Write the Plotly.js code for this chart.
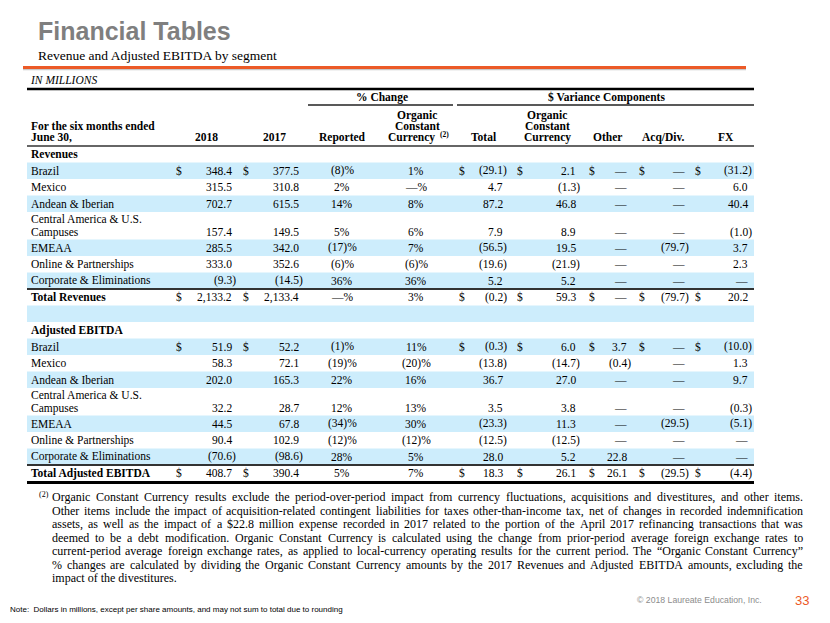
<!DOCTYPE html>
<html><head><meta charset="utf-8">
<script src="https://cdn.plot.ly/plotly-3.0.1.min.js"></script>
<style>html,body{margin:0;padding:0;background:#fff;overflow:hidden}</style>
</head><body><div id="chart" style="width:830px;height:623px"></div>
<script>
// ---------------- DATA ----------------
const segments = ["Brazil","Mexico","Andean &amp; Iberian","Central America &amp; U.S.|Campuses","EMEAA","Online &amp; Partnerships","Corporate &amp; Eliminations"];
const yearLabels = ["2018","2017"];
const pctHeaders = ["Reported","Organic|Constant|Currency"];
const varHeaders = ["Total","Organic|Constant|Currency","Other","Acq/Div.","FX"];

// Revenues
const rev2018        = [348.4, 315.5, 702.7, 157.4, 285.5, 333.0, -9.3];
const rev2017        = [377.5, 310.8, 615.5, 149.5, 342.0, 352.6, -14.5];
const revReportedPct = [-8, 2, 14, 5, -17, -6, 36];
const revOrganicPct  = [1, 0, 8, 6, 7, -6, 36];
const revTotalVar    = [-29.1, 4.7, 87.2, 7.9, -56.5, -19.6, 5.2];
const revOrganicVar  = [2.1, -1.3, 46.8, 8.9, 19.5, -21.9, 5.2];
const revOtherVar    = [0, 0, 0, 0, 0, 0, 0];
const revAcqDivVar   = [0, 0, 0, 0, -79.7, 0, 0];
const revFxVar       = [-31.2, 6.0, 40.4, -1.0, 3.7, 2.3, 0];
const revTotals      = [2133.2, 2133.4, 0, 3, -0.2, 59.3, 0, -79.7, 20.2];

// Adjusted EBITDA
const eb2018        = [51.9, 58.3, 202.0, 32.2, 44.5, 90.4, -70.6];
const eb2017        = [52.2, 72.1, 165.3, 28.7, 67.8, 102.9, -98.6];
const ebReportedPct = [-1, -19, 22, 12, -34, -12, 28];
const ebOrganicPct  = [11, -20, 16, 13, 30, -12, 5];
const ebTotalVar    = [-0.3, -13.8, 36.7, 3.5, -23.3, -12.5, 28.0];
const ebOrganicVar  = [6.0, -14.7, 27.0, 3.8, 11.3, -12.5, 5.2];
const ebOtherVar    = [3.7, -0.4, 0, 0, 0, 0, 22.8];
const ebAcqDivVar   = [0, 0, 0, 0, -29.5, 0, 0];
const ebFxVar       = [-10.0, 1.3, 9.7, -0.3, -5.1, 0, 0];
const ebTotals      = [408.7, 390.4, 5, 7, 18.3, 26.1, 26.1, -29.5, -4.4];

const footLines = [
 "Organic Constant Currency results exclude the period-over-period impact from currency fluctuations, acquisitions and divestitures, and other items.",
 "Other items include the impact of acquisition-related contingent liabilities for taxes other-than-income tax, net of changes in recorded indemnification",
 "assets, as well as the impact of a $22.8 million expense recorded in 2017 related to the portion of the April 2017 refinancing transactions that was",
 "deemed to be a debt modification. Organic Constant Currency is calculated using the change from prior-period average foreign exchange rates to",
 "current-period average foreign exchange rates, as applied to local-currency operating results for the current period. The \u201cOrganic Constant Currency\u201d",
 "% changes are calculated by dividing the Organic Constant Currency amounts by the 2017 Revenues and Adjusted EBITDA amounts, excluding the",
 "impact of the divestitures."
];

// ---------------- RENDER ----------------
const SERIF = "Liberation Serif, Times New Roman, serif";
const SANS = "Liberation Sans, Arial, sans-serif";
const FS = 11.5;
const BLUE = "#cdedfc";
const ann = [], shapes = [];
function T(x, y, text, o) {
  o = o || {};
  ann.push({xref:'x', yref:'y', x:x, y:y, text:text, showarrow:false,
    xanchor:o.xa||'left', yanchor:o.ya||'middle', borderpad:0, borderwidth:0,
    font:{family:o.family||SERIF, size:o.size||FS, color:o.color||'#000'}});
}
function L(x0, x1, y, w, c) {
  shapes.push({type:'line', xref:'x', yref:'y', x0:x0, x1:x1, y0:y, y1:y, line:{color:c||'#000', width:w}});
}
function R(x0, x1, y0, y1, c) {
  shapes.push({type:'rect', xref:'x', yref:'y', x0:x0, x1:x1, y0:y0, y1:y1, fillcolor:c, line:{width:0}, layer:'below'});
}
function fmtNum(v) {
  if (v === 0) return '\u2014';
  const s = Math.abs(v).toLocaleString('en-US', {minimumFractionDigits:1, maximumFractionDigits:1});
  return v < 0 ? '(' + s + ')' : s;
}
function fmtPct(v) {
  if (v === 0) return '\u2014%';
  return v < 0 ? '(' + Math.abs(v) + ')%' : v + '%';
}

const TL = 27, TR = 754;
const COLS = [
  {kind:'num', dollar:176, rx:236},
  {kind:'num', dollar:243, rx:303},
  {kind:'pct', cx:342},
  {kind:'pct', cx:416},
  {kind:'num', dollar:459, rx:507},
  {kind:'num', dollar:517, rx:580},
  {kind:'num', dollar:589, rx:631},
  {kind:'num', dollar:639, rx:689},
  {kind:'num', dollar:695, rx:752}
];
function drawValues(vals, y, withDollar) {
  COLS.forEach((c, i) => {
    const v = vals[i];
    if (c.kind === 'pct') {
      T(c.cx, y, fmtPct(v), {xa:'center'});
    } else {
      const s = fmtNum(v);
      const paren = s.endsWith(')');
      T(paren ? c.rx : c.rx - 4.5, y, s, {xa:'right'});
      if (withDollar) T(c.dollar, y, '$');
    }
  });
}

// Header
T(38, 31, '<b>Financial Tables</b>', {family:SANS, size:25, color:'#7f7f7f'});
T(38, 55, 'Revenue and Adjusted EBITDA by segment', {size:13.5});
L(23, 746, 69.5, 1.5, '#c8c8c8');
L(23, 746, 67.5, 3, '#ec5a27');
T(30, 80, '<i>IN MILLIONS</i>');
L(TL, TR, 89, 2.5, '#000');
T(382, 97, '<b>% Change</b>', {xa:'center'});
T(606, 97, '<b>$ Variance Components</b>', {xa:'center'});
L(308, 453, 105, 1.5, '#222');
L(457, TR, 105, 1.5, '#222');
T(31, 126, '<b>For the six months ended</b>');
T(31, 137, '<b>June 30,</b>');
T(206, 137, '<b>' + yearLabels[0] + '</b>', {xa:'center'});
T(274, 137, '<b>' + yearLabels[1] + '</b>', {xa:'center'});
function multiHead(cx, txt) {
  const parts = txt.split('|');
  parts.forEach((p, k) => T(cx, 137 - (parts.length - 1 - k) * 10.6, '<b>' + p + '</b>', {xa:'center'}));
}
multiHead(342, pctHeaders[0]);
// Organic constant currency (%): last line carries the footnote mark
const pctOrg = pctHeaders[1].split('|');
T(417, 137 - 21.2, '<b>' + pctOrg[0] + '</b>', {xa:'center'});
T(417, 137 - 10.6, '<b>' + pctOrg[1] + '</b>', {xa:'center'});
T(435, 137, '<b>' + pctOrg[2] + '</b>', {xa:'right'});
T(440, 134, '<b>(2)</b>', {size:7.5});
multiHead(483, varHeaders[0]);
multiHead(547, varHeaders[1]);
multiHead(607, varHeaders[2]);
multiHead(663, varHeaders[3]);
multiHead(726, varHeaders[4]);
L(TL, TR, 146, 1.5, '#333');

// Body
const RH = 16.5, RH2 = 27.5;
let yTop = 146;
function section(title, cols, totals, totalLabel) {
  T(31, yTop + RH / 2, '<b>' + title + '</b>');
  yTop += RH;
  segments.forEach((seg, i) => {
    const parts = seg.split('|');
    const h = parts.length > 1 ? RH2 : RH;
    if (i % 2 === 0) R(TL, TR, yTop, yTop + h, BLUE);
    let yv;
    if (parts.length > 1) {
      T(31, yTop + 7, parts[0]);
      T(31, yTop + 20, parts[1]);
      yv = yTop + 20;
    } else {
      T(31, yTop + h / 2, parts[0]);
      yv = yTop + h / 2;
    }
    drawValues(cols.map(a => a[i]), yv, i === 0);
    yTop += h;
  });
  L(TL, TR, yTop, 2, '#333');
  T(31, yTop + RH / 2, '<b>' + totalLabel + '</b>');
  drawValues(totals, yTop + RH / 2, true);
  yTop += RH;
}
section('Revenues', [rev2018, rev2017, revReportedPct, revOrganicPct, revTotalVar, revOrganicVar, revOtherVar, revAcqDivVar, revFxVar], revTotals, 'Total Revenues');
R(TL, TR, yTop, yTop + RH, BLUE);
yTop += RH;
section('Adjusted EBITDA', [eb2018, eb2017, ebReportedPct, ebOrganicPct, ebTotalVar, ebOrganicVar, ebOtherVar, ebAcqDivVar, ebFxVar], ebTotals, 'Total Adjusted EBITDA');
L(TL, TR, yTop + 1, 3, '#000');

// Footnote (justified)
const FNS = 12;
const ctx = document.createElement('canvas').getContext('2d');
ctx.font = FNS + 'px "Liberation Serif"';
T(39, 494.5, '(2)', {size:8});
footLines.forEach((line, i) => {
  const y = 497 + i * 13.5;
  const x0 = 52, x1 = 803;
  if (i === footLines.length - 1) { T(x0, y, line, {size:FNS}); return; }
  const words = line.split(' ');
  const widths = words.map(w => ctx.measureText(w).width);
  const sum = widths.reduce((a, b) => a + b, 0);
  const gap = (x1 - x0 - sum) / (words.length - 1);
  let x = x0;
  words.forEach((w, j) => { T(x, y, w, {size:FNS}); x += widths[j] + gap; });
});

T(10, 609, 'Note:  Dollars in millions, except per share amounts, and may not sum to total due to rounding', {family:SANS, size:8});
T(762, 600, '\u00a9 2018 Laureate Education, Inc.', {family:SANS, size:8.7, color:'#8c8c8c', xa:'right'});
T(795, 600, '33', {family:SANS, size:13, color:'#ec5a27'});

Plotly.newPlot('chart', [], {
  width:830, height:623, margin:{l:0, r:0, t:0, b:0},
  paper_bgcolor:'#fff', plot_bgcolor:'#fff', showlegend:false,
  xaxis:{range:[0,830], visible:false, fixedrange:true},
  yaxis:{range:[623,0], visible:false, fixedrange:true},
  annotations:ann, shapes:shapes
}, {staticPlot:true, displayModeBar:false});
</script></body></html>
